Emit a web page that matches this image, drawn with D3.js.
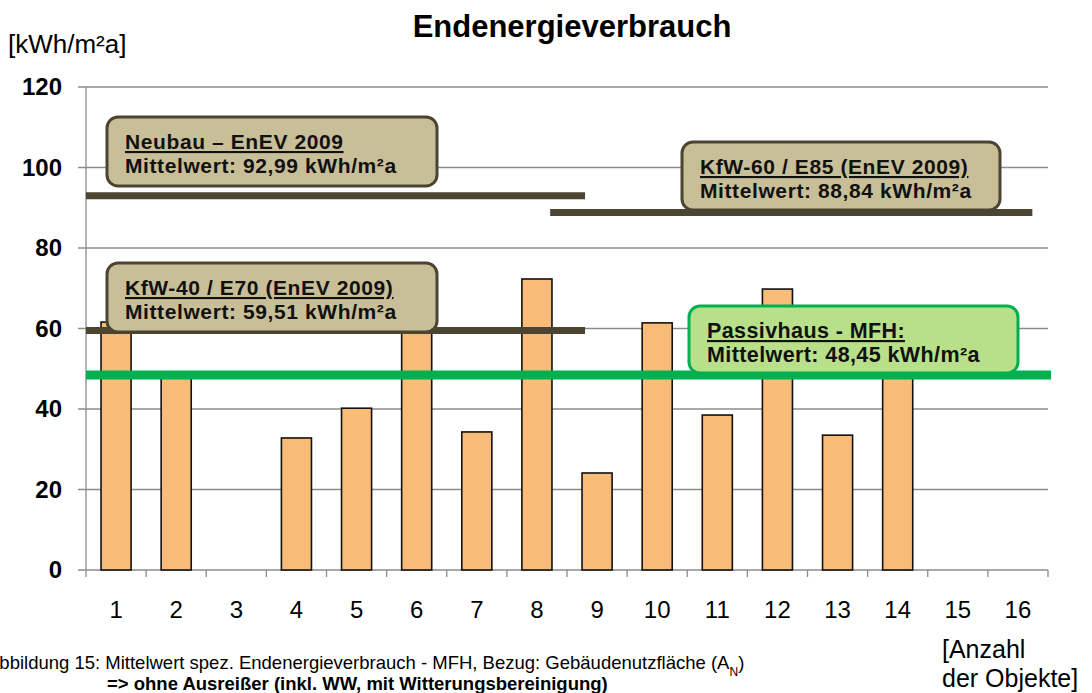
<!DOCTYPE html>
<html>
<head>
<meta charset="utf-8">
<script src="https://cdn.jsdelivr.net/npm/d3@7"></script>
<style>
  body { margin: 0; background: #fff; }
  text { font-family: Arial, "Liberation Sans", sans-serif; }
</style>
</head>
<body>
<div id="chart"></div>
<script>
// Data
const objects = ["1","2","3","4","5","6","7","8","9","10","11","12","13","14","15","16"];
const consumption = [61.6, 48.7, null, 32.8, 40.2, 62, 34.3, 72.3, 24.1, 61.4, 38.5, 69.8, 33.5, 50, null, null];
const yTicks = [0, 20, 40, 60, 80, 100, 120];

// Mean values (kWh/m²a) with their label texts
const meanTitles = ["Neubau – EnEV 2009", "KfW-60 / E85 (EnEV 2009)", "KfW-40 / E70 (EnEV 2009)", "Passivhaus - MFH:"];
const meanValues = [92.99, 88.84, 59.51, 48.45];
const meanLabels = ["Mittelwert: 92,99 kWh/m²a", "Mittelwert: 88,84 kWh/m²a", "Mittelwert: 59,51 kWh/m²a", "Mittelwert: 48,45 kWh/m²a"];

const W = 1092, H = 693;
const margin = { top: 87, right: 44, bottom: 123, left: 86 };
const width = W - margin.left - margin.right,
      height = H - margin.top - margin.bottom;

const svg = d3.select("#chart").append("svg")
    .attr("width", W).attr("height", H);

const g = svg.append("g")
    .attr("transform", `translate(${margin.left},${margin.top})`);

// X scale: one band per object, bar = half of the step
const x = d3.scaleBand().domain(objects).range([0, width])
    .paddingInner(0.5).paddingOuter(0.25);
const y = d3.scaleLinear().domain([0, 120]).range([height, 0]);
const step = x.step();

// gridlines
g.selectAll(".grid").data(yTicks).enter().append("line")
    .attr("x1", -8).attr("x2", width)
    .attr("y1", d => y(d)).attr("y2", d => y(d))
    .attr("stroke", "#8c8c8c").attr("stroke-width", 1.3);

// y axis line
g.append("line").attr("x1", 0).attr("x2", 0).attr("y1", 0).attr("y2", height + 7)
    .attr("stroke", "#8c8c8c").attr("stroke-width", 1.3);

// x ticks at category boundaries
g.selectAll(".xt").data(d3.range(1, objects.length + 1)).enter().append("line")
    .attr("x1", d => d * step).attr("x2", d => d * step)
    .attr("y1", height).attr("y2", height + 7)
    .attr("stroke", "#8c8c8c").attr("stroke-width", 1.3);

// y tick labels
g.selectAll(".yl").data(yTicks).enter().append("text")
    .attr("x", -24).attr("y", d => y(d) + 8)
    .attr("text-anchor", "end")
    .style("font-size", "24px").style("font-weight", "bold")
    .text(d => d);

// x tick labels
g.selectAll(".xl").data(objects).enter().append("text")
    .attr("x", d => x(d) + x.bandwidth() / 2)
    .attr("y", height + 48)
    .attr("text-anchor", "middle")
    .style("font-size", "24px")
    .text(d => d);

// bars
const barData = objects.map((o, i) => ({ o, v: consumption[i] })).filter(d => d.v != null);
g.selectAll(".bar").data(barData).enter().append("rect")
    .attr("x", d => x(d.o)).attr("width", x.bandwidth())
    .attr("y", d => y(d.v)).attr("height", d => height - y(d.v))
    .attr("fill", "#f8bb78").attr("stroke", "#111").attr("stroke-width", 1.6);

// mean lines (span in category steps)
const lineSpan = [[0, 8.3], [7.72, 15.74], [0, 8.3], [0, 16.05]];
const lineColor = ["#4a4430", "#4a4430", "#4a4430", "#00b050"];
const lineW = [7, 7, 7, 9];
meanValues.forEach((v, i) => {
    g.append("line")
        .attr("x1", lineSpan[i][0] * step).attr("x2", lineSpan[i][1] * step)
        .attr("y1", y(v)).attr("y2", y(v))
        .attr("stroke", lineColor[i]).attr("stroke-width", lineW[i]);
});

// label boxes
const boxPos = [[21, 30, 330, 69], [596, 55, 318, 68], [21, 176, 330, 69], [603, 219, 329, 67]];
const boxFill = ["#c8bf98", "#c8bf98", "#c8bf98", "#b8e08b"];
const boxStroke = ["#4a4430", "#4a4430", "#4a4430", "#00b050"];
meanTitles.forEach((t, i) => {
    const [bx, by, bw, bh] = boxPos[i];
    g.append("rect")
        .attr("x", bx).attr("y", by).attr("width", bw).attr("height", bh)
        .attr("rx", 11)
        .attr("fill", boxFill[i]).attr("stroke", boxStroke[i]).attr("stroke-width", 3);
    const fs = i === 3 ? 21.5 : 21;
    const ls = i === 3 ? "0.4px" : "0.6px";
    g.append("text")
        .attr("x", bx + 18).attr("y", by + 32)
        .style("font-size", fs + "px").style("font-weight", "bold")
        .style("letter-spacing", ls)
        .style("text-decoration", "underline")
        .attr("fill", "#111")
        .text(t);
    g.append("text")
        .attr("x", bx + 18).attr("y", by + 56)
        .style("font-size", fs + "px").style("font-weight", "bold")
        .style("letter-spacing", ls)
        .attr("fill", "#111")
        .text(meanLabels[i]);
});

// titles
svg.append("text")
    .attr("x", 572).attr("y", 37)
    .attr("text-anchor", "middle")
    .style("font-size", "31px").style("font-weight", "bold")
    .text("Endenergieverbrauch");

svg.append("text")
    .attr("x", 8).attr("y", 53)
    .style("font-size", "26px")
    .text("[kWh/m²a]");

svg.append("text")
    .attr("x", 942).attr("y", 658)
    .style("font-size", "25px")
    .text("[Anzahl");
svg.append("text")
    .attr("x", 942).attr("y", 687)
    .style("font-size", "25px")
    .text("der Objekte]");

// caption (left edge cut off as in the original)
const cap = svg.append("text")
    .attr("x", -13).attr("y", 669)
    .style("font-size", "18.5px");
cap.append("tspan").text("Abbildung 15: Mittelwert spez. Endenergieverbrauch - MFH, Bezug: Gebäudenutzfläche (A");
cap.append("tspan").attr("baseline-shift", "sub").style("font-size", "12px").text("N");
cap.append("tspan").text(")");

svg.append("text")
    .attr("x", 107).attr("y", 690)
    .style("font-size", "18.5px").style("font-weight", "bold")
    .text("=> ohne Ausreißer (inkl. WW, mit Witterungsbereinigung)");
</script>
</body>
</html>
